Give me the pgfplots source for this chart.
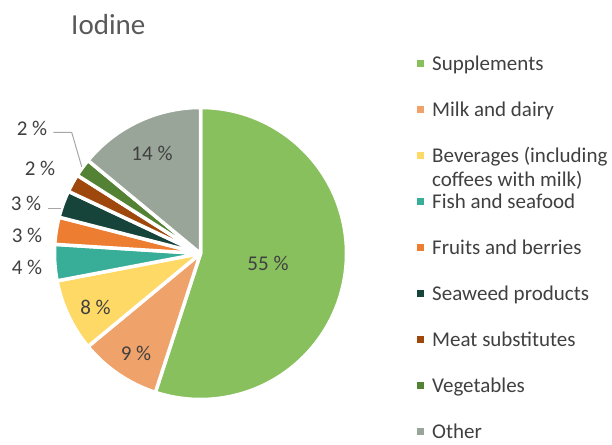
\documentclass[border=0pt]{standalone}
\usepackage{pgfplots}
\usepackage{pgfplotstable}
\pgfplotsset{compat=1.18}
\usepackage{fontspec}
\setmainfont{Carlito}

\definecolor{cSup}{RGB}{137,192,94}
\definecolor{cMilk}{RGB}{240,162,107}
\definecolor{cBev}{RGB}{255,217,102}
\definecolor{cFish}{RGB}{56,173,151}
\definecolor{cFruit}{RGB}{237,125,49}
\definecolor{cSea}{RGB}{22,68,58}
\definecolor{cMeat}{RGB}{158,72,14}
\definecolor{cVeg}{RGB}{84,130,53}
\definecolor{cOther}{RGB}{153,165,153}
\definecolor{txt}{RGB}{64,64,64}
\definecolor{ttl}{RGB}{89,89,89}
\definecolor{lead}{RGB}{166,166,166}

% value in percent, slice colour, label position (x, baseline y, in pixels from top left)
\pgfplotstableread[col sep=comma]{
name,value,col,lx,ly
Supplements,55,cSup,268,270.7
Milk and dairy,9,cMilk,136,360
Beverages (including,8,cBev,95.5,314
Fish and seafood,4,cFish,27,274
Fruits and berries,3,cFruit,27,242
Seaweed products,3,cSea,26,210
Meat substitutes,2,cMeat,40,175
Vegetables,2,cVeg,32,135
Other,14,cOther,152,160
}\piedata

\begin{document}
\begin{tikzpicture}
\begin{axis}[hide axis, scale only axis, width=612pt, height=444pt,
  xmin=0, xmax=612, ymin=0, ymax=444, y dir=reverse, clip=false]
\path (axis cs:0,0) rectangle (axis cs:612,444);
\pgfplotsextra{%
  \gdef\cum{0}%
  \pgfplotstableforeachcolumnelement{value}\of\piedata\as\v{%
    \pgfplotstablegetelem{\pgfplotstablerow}{col}\of\piedata
    \edef\c{\pgfplotsretval}%
    \pgfmathsetmacro\aone{90-3.6*\cum}%
    \pgfmathsetmacro\atwo{90-3.6*(\cum+\v)}%
    \filldraw[fill=\c, draw=white, line width=3.5pt, line join=round]
      (axis cs:200.5,253.5) -- ++(\aone:146pt)
      arc[start angle=\aone, end angle=\atwo, radius=146pt] -- cycle;
    \pgfmathsetmacro\cumnew{\cum+\v}%
    \xdef\cum{\cumnew}%
  }%
  % data labels
  \pgfplotstableforeachcolumnelement{value}\of\piedata\as\v{%
    \pgfplotstablegetelem{\pgfplotstablerow}{lx}\of\piedata
    \edef\lx{\pgfplotsretval}%
    \pgfplotstablegetelem{\pgfplotstablerow}{ly}\of\piedata
    \edef\ly{\pgfplotsretval}%
    \node[anchor=base, inner sep=0pt, text=txt, font=\fontsize{21}{24}\selectfont]
      at (axis cs:\lx,\ly) {\v~\%};
  }%
  % legend
  \pgfplotstableforeachcolumnelement{name}\of\piedata\as\nm{%
    \pgfplotstablegetelem{\pgfplotstablerow}{col}\of\piedata
    \edef\c{\pgfplotsretval}%
    \pgfmathsetmacro\yc{63.5+46.0*\pgfplotstablerow}%
    \fill[\c] (axis cs:417,\yc-3.5) rectangle (axis cs:424,\yc+3.5);
    \node[anchor=base west, inner sep=0pt, text=txt, font=\fontsize{21}{24}\selectfont]
      at (axis cs:432,\yc+7) {\nm};
  }%
}
\node[anchor=base west, inner sep=0pt, text=txt, font=\fontsize{21}{24}\selectfont]
  at (axis cs:432,186.5) {coffees with milk)};
% leader lines
\draw[lead, line width=1pt] (axis cs:53.3,132.3) -- (axis cs:71.7,132.3) -- (axis cs:81.7,166.7);
\draw[lead, line width=1pt] (axis cs:48.3,208.3) -- (axis cs:60.7,208.3);
% title
\node[anchor=base west, inner sep=0pt, text=ttl, font=\fontsize{29}{33}\selectfont]
  at (axis cs:71,35) {Iodine};
\end{axis}
\end{tikzpicture}
\end{document}
